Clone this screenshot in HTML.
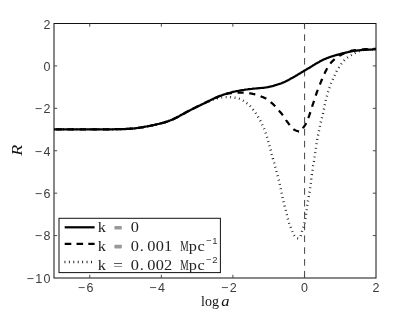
<!DOCTYPE html>
<html><head><meta charset="utf-8"><title>R vs log a</title>
<style>
html,body{margin:0;padding:0;background:#fff;}
body{width:415px;height:313px;overflow:hidden;font-family:"Liberation Sans",sans-serif;}
svg{display:block;}
.tk text{font-family:"Liberation Sans",sans-serif;font-size:12.5px;letter-spacing:1.45px;fill:#3c3c3c;}
.lg text{font-family:"Liberation Serif",serif;font-size:13.6px;fill:#222;}
.lg text.sup{font-family:"Liberation Sans",sans-serif;font-size:9.5px;letter-spacing:0.6px;fill:#333;}
.lg text.eq{font-family:"Liberation Mono",monospace;font-size:13.8px;}
</style></head><body>
<svg width="415" height="313" viewBox="0 0 415 313" style="filter:grayscale(1)">
<rect x="0" y="0" width="415" height="313" fill="#fff"/>
<g fill="none" stroke="#444" stroke-width="1" stroke-dasharray="6.6 5.23" stroke-dashoffset="1.0">
<path d="M304.6 23.5 V278"/>
</g>
<g fill="none" stroke="#000" stroke-linejoin="round">
<path d="M54.0 129.3 L54.7 129.3 L55.4 129.3 L56.1 129.3 L56.8 129.3 L57.6 129.3 L58.3 129.3 L59.0 129.3 L59.7 129.3 L60.4 129.3 L61.1 129.3 L61.8 129.3 L62.5 129.3 L63.2 129.3 L63.9 129.3 L64.7 129.3 L65.4 129.3 L66.1 129.3 L66.8 129.3 L67.5 129.3 L68.2 129.3 L68.9 129.3 L69.6 129.3 L70.3 129.3 L71.1 129.3 L71.8 129.3 L72.5 129.3 L73.2 129.3 L73.9 129.3 L74.6 129.3 L75.3 129.3 L76.0 129.3 L76.7 129.3 L77.4 129.3 L78.2 129.3 L78.9 129.3 L79.6 129.3 L80.3 129.3 L81.0 129.3 L81.7 129.3 L82.4 129.3 L83.1 129.3 L83.8 129.3 L84.6 129.3 L85.3 129.3 L86.0 129.3 L86.7 129.3 L87.4 129.3 L88.1 129.3 L88.8 129.3 L89.5 129.3 L90.2 129.3 L91.0 129.3 L91.7 129.3 L92.4 129.3 L93.1 129.3 L93.8 129.3 L94.5 129.3 L95.2 129.3 L95.9 129.3 L96.6 129.3 L97.3 129.3 L98.1 129.3 L98.8 129.3 L99.5 129.3 L100.2 129.3 L100.9 129.3 L101.6 129.3 L102.3 129.3 L103.0 129.3 L103.7 129.3 L104.5 129.3 L105.2 129.3 L105.9 129.3 L106.6 129.3 L107.3 129.3 L108.0 129.3 L108.7 129.3 L109.4 129.3 L110.1 129.3 L110.8 129.3 L111.6 129.3 L112.3 129.3 L113.0 129.3 L113.7 129.3 L114.4 129.3 L115.1 129.2 L115.8 129.2 L116.5 129.2 L117.2 129.2 L118.0 129.2 L118.7 129.2 L119.4 129.2 L120.1 129.2 L120.8 129.1 L121.5 129.1 L122.2 129.1 L122.9 129.1 L123.6 129.0 L124.3 129.0 L125.1 129.0 L125.8 129.0 L126.5 128.9 L127.2 128.9 L127.9 128.9 L128.6 128.8 L129.3 128.8 L130.0 128.7 L130.7 128.7 L131.4 128.6 L132.1 128.6 L132.9 128.5 L133.6 128.4 L134.3 128.4 L135.0 128.3 L135.7 128.2 L136.4 128.1 L137.1 128.0 L137.8 127.9 L138.5 127.8 L139.2 127.7 L139.9 127.6 L140.6 127.5 L141.3 127.4 L142.0 127.3 L142.7 127.2 L143.4 127.1 L144.1 126.9 L144.8 126.8 L145.5 126.7 L146.2 126.6 L146.9 126.4 L147.6 126.3 L148.3 126.2 L149.0 126.0 L149.7 125.9 L150.4 125.8 L151.1 125.6 L151.8 125.5 L152.5 125.3 L153.2 125.2 L153.9 125.0 L154.6 124.9 L155.3 124.7 L156.0 124.6 L156.7 124.4 L157.3 124.3 L158.0 124.1 L158.7 123.9 L159.4 123.8 L160.1 123.6 L160.8 123.4 L161.5 123.2 L162.2 123.0 L162.9 122.9 L163.5 122.7 L164.2 122.5 L164.9 122.3 L165.6 122.0 L166.3 121.8 L166.9 121.6 L167.6 121.4 L168.3 121.1 L169.0 120.9 L169.6 120.6 L170.3 120.4 L170.9 120.1 L171.6 119.8 L172.2 119.6 L172.9 119.3 L173.5 119.0 L174.2 118.7 L174.8 118.4 L175.5 118.1 L176.1 117.7 L176.7 117.4 L177.4 117.1 L178.0 116.8 L178.6 116.4 L179.3 116.1 L179.9 115.8 L180.5 115.4 L181.1 115.1 L181.7 114.7 L182.4 114.4 L183.0 114.1 L183.6 113.7 L184.2 113.4 L184.9 113.0 L185.5 112.7 L186.1 112.3 L186.7 112.0 L187.4 111.7 L188.0 111.3 L188.6 111.0 L189.2 110.7 L189.9 110.3 L190.5 110.0 L191.1 109.7 L191.8 109.3 L192.4 109.0 L193.0 108.7 L193.7 108.4 L194.3 108.1 L194.9 107.7 L195.6 107.4 L196.2 107.1 L196.8 106.8 L197.5 106.5 L198.1 106.2 L198.8 105.9 L199.4 105.6 L200.1 105.3 L200.7 105.0 L201.3 104.7 L202.0 104.3 L202.6 104.0 L203.3 103.7 L203.9 103.4 L204.5 103.1 L205.2 102.8 L205.8 102.5 L206.5 102.2 L207.1 101.9 L207.8 101.7 L208.4 101.4 L209.1 101.1 L209.7 100.8 L210.4 100.6 L211.1 100.3 L211.7 100.1 L212.4 99.9 L213.1 99.6 L213.8 99.4 L214.4 99.2 L215.1 99.0 L215.8 98.8 L216.5 98.6 L217.2 98.4 L217.8 98.2 L218.5 98.0 L219.2 97.9 L219.9 97.7 L220.6 97.6 L221.3 97.5 L222.0 97.4 L222.7 97.3 L223.4 97.2 L224.2 97.2 L224.9 97.1 L225.6 97.1 L226.3 97.1 L227.0 97.1 L227.7 97.1 L228.4 97.1 L229.1 97.2 L229.8 97.2 L230.5 97.2 L231.3 97.3 L232.0 97.4 L232.7 97.4 L233.4 97.5 L234.1 97.6 L234.8 97.7 L235.5 97.8 L236.2 98.0 L236.9 98.1 L237.6 98.3 L238.3 98.5 L238.9 98.7 L239.6 98.9 L240.3 99.2 L240.9 99.5 L241.6 99.8 L242.2 100.1 L242.8 100.5 L243.4 100.8 L244.0 101.2 L244.6 101.6 L245.2 102.0 L245.8 102.4 L246.3 102.9 L246.9 103.3 L247.5 103.7 L248.0 104.2 L248.6 104.6 L249.1 105.1 L249.6 105.6 L250.1 106.1 L250.6 106.7 L251.0 107.2 L251.5 107.7 L251.9 108.3 L252.4 108.8 L252.8 109.4 L253.3 109.9 L253.7 110.5 L254.2 111.0 L254.6 111.6 L255.0 112.2 L255.4 112.8 L255.8 113.3 L256.2 113.9 L256.7 114.5 L257.1 115.1 L257.5 115.7 L257.9 116.3 L258.2 116.9 L258.6 117.5 L258.9 118.1 L259.3 118.7 L259.6 119.4 L259.9 120.0 L260.3 120.6 L260.6 121.2 L260.9 121.9 L261.3 122.5 L261.6 123.1 L261.9 123.8 L262.1 124.4 L262.4 125.1 L262.7 125.7 L263.0 126.4 L263.3 127.0 L263.6 127.7 L263.9 128.3 L264.2 129.0 L264.4 129.6 L264.7 130.3 L265.0 131.0 L265.2 131.6 L265.4 132.3 L265.7 133.0 L265.9 133.6 L266.1 134.3 L266.3 135.0 L266.6 135.7 L266.8 136.4 L267.0 137.0 L267.2 137.7 L267.4 138.4 L267.6 139.1 L267.8 139.8 L268.0 140.5 L268.2 141.1 L268.4 141.8 L268.6 142.5 L268.7 143.2 L268.9 143.9 L269.1 144.6 L269.3 145.2 L269.5 145.9 L269.7 146.6 L269.9 147.3 L270.1 148.0 L270.2 148.7 L270.4 149.4 L270.6 150.0 L270.8 150.7 L271.0 151.4 L271.2 152.1 L271.4 152.8 L271.5 153.5 L271.7 154.2 L271.9 154.8 L272.1 155.5 L272.3 156.2 L272.5 156.9 L272.7 157.6 L272.8 158.3 L273.0 159.0 L273.2 159.6 L273.4 160.3 L273.6 161.0 L273.8 161.7 L274.0 162.4 L274.2 163.1 L274.3 163.8 L274.5 164.4 L274.7 165.1 L274.9 165.8 L275.1 166.5 L275.3 167.2 L275.5 167.9 L275.7 168.6 L275.8 169.2 L276.0 169.9 L276.2 170.6 L276.4 171.3 L276.6 172.0 L276.8 172.7 L277.0 173.4 L277.1 174.0 L277.3 174.7 L277.5 175.4 L277.7 176.1 L277.8 176.8 L278.0 177.5 L278.2 178.2 L278.4 178.9 L278.5 179.6 L278.7 180.2 L278.9 180.9 L279.0 181.6 L279.2 182.3 L279.3 183.0 L279.5 183.7 L279.7 184.4 L279.8 185.1 L280.0 185.8 L280.1 186.5 L280.3 187.2 L280.4 187.9 L280.6 188.6 L280.7 189.3 L280.9 190.0 L281.0 190.6 L281.2 191.3 L281.3 192.0 L281.5 192.7 L281.7 193.4 L281.8 194.1 L282.0 194.8 L282.1 195.5 L282.3 196.2 L282.5 196.9 L282.6 197.6 L282.8 198.3 L283.0 199.0 L283.1 199.6 L283.3 200.3 L283.5 201.0 L283.6 201.7 L283.8 202.4 L284.0 203.1 L284.1 203.8 L284.3 204.5 L284.5 205.2 L284.6 205.9 L284.8 206.6 L285.0 207.2 L285.1 207.9 L285.3 208.6 L285.5 209.3 L285.7 210.0 L285.8 210.7 L286.0 211.4 L286.2 212.1 L286.3 212.8 L286.5 213.4 L286.7 214.1 L286.9 214.8 L287.0 215.5 L287.2 216.2 L287.4 216.9 L287.6 217.6 L287.7 218.3 L287.9 218.9 L288.1 219.6 L288.3 220.3 L288.5 221.0 L288.7 221.7 L288.9 222.4 L289.1 223.0 L289.4 223.7 L289.6 224.4 L289.8 225.1 L290.1 225.7 L290.3 226.4 L290.6 227.1 L290.8 227.8 L291.1 228.4 L291.3 229.1 L291.6 229.7 L291.8 230.4 L292.1 231.0 L292.4 231.7 L292.6 232.3 L292.9 233.0 L293.2 233.6 L293.5 234.2 L293.9 234.8 L294.3 235.4 L294.8 236.0 L295.3 236.6 L295.9 237.2 L296.5 237.7 L297.2 238.1 L297.8 238.3 L298.4 238.4 L298.9 238.3 L299.3 238.0 L299.8 237.5 L300.1 236.9 L300.5 236.3 L300.8 235.5 L301.0 234.7 L301.3 233.8 L301.6 233.0 L301.8 232.2 L302.0 231.4 L302.3 230.7 L302.5 230.0 L302.7 229.3 L303.0 228.7 L303.2 228.1 L303.4 227.4 L303.6 226.8 L303.8 226.2 L304.0 225.5 L304.1 224.9 L304.3 224.2 L304.4 223.5 L304.6 222.9 L304.7 222.2 L304.9 221.5 L305.0 220.8 L305.1 220.1 L305.2 219.4 L305.4 218.7 L305.5 218.0 L305.6 217.3 L305.7 216.5 L305.8 215.8 L305.9 215.1 L306.0 214.4 L306.1 213.6 L306.2 212.9 L306.3 212.2 L306.4 211.5 L306.5 210.8 L306.6 210.0 L306.7 209.3 L306.8 208.6 L306.9 207.9 L307.0 207.2 L307.1 206.5 L307.2 205.8 L307.4 205.1 L307.5 204.4 L307.6 203.7 L307.7 203.0 L307.8 202.3 L307.9 201.6 L308.0 200.9 L308.2 200.2 L308.3 199.5 L308.4 198.8 L308.5 198.1 L308.6 197.4 L308.7 196.7 L308.8 196.0 L308.9 195.3 L309.0 194.6 L309.1 193.9 L309.2 193.2 L309.4 192.5 L309.5 191.8 L309.6 191.1 L309.7 190.4 L309.8 189.7 L309.9 189.0 L310.1 188.3 L310.2 187.6 L310.3 186.9 L310.4 186.2 L310.5 185.5 L310.6 184.8 L310.7 184.1 L310.8 183.4 L310.9 182.7 L311.0 182.0 L311.1 181.3 L311.2 180.6 L311.3 179.9 L311.3 179.1 L311.4 178.4 L311.5 177.7 L311.6 177.0 L311.6 176.3 L311.7 175.6 L311.8 174.9 L311.9 174.2 L312.0 173.5 L312.1 172.8 L312.1 172.1 L312.2 171.4 L312.3 170.7 L312.5 170.0 L312.6 169.3 L312.7 168.6 L312.8 167.9 L312.9 167.2 L313.0 166.5 L313.1 165.8 L313.3 165.1 L313.4 164.4 L313.5 163.7 L313.6 163.0 L313.7 162.3 L313.9 161.6 L314.0 160.9 L314.1 160.2 L314.2 159.5 L314.3 158.8 L314.4 158.1 L314.5 157.4 L314.6 156.7 L314.7 156.0 L314.8 155.2 L315.0 154.5 L315.1 153.8 L315.2 153.1 L315.3 152.4 L315.4 151.7 L315.5 151.0 L315.6 150.3 L315.7 149.6 L315.8 148.9 L315.9 148.2 L316.0 147.5 L316.1 146.8 L316.2 146.1 L316.3 145.4 L316.4 144.7 L316.5 144.0 L316.6 143.3 L316.8 142.6 L316.9 141.9 L317.0 141.2 L317.1 140.5 L317.2 139.8 L317.3 139.1 L317.5 138.4 L317.6 137.7 L317.7 137.0 L317.9 136.3 L318.0 135.6 L318.1 134.9 L318.3 134.2 L318.4 133.5 L318.5 132.8 L318.7 132.1 L318.8 131.4 L319.0 130.7 L319.1 130.0 L319.3 129.3 L319.4 128.6 L319.6 127.9 L319.7 127.3 L319.9 126.6 L320.0 125.9 L320.2 125.2 L320.4 124.5 L320.5 123.8 L320.7 123.1 L320.8 122.4 L321.0 121.7 L321.2 121.0 L321.3 120.3 L321.5 119.6 L321.7 119.0 L321.8 118.3 L322.0 117.6 L322.2 116.9 L322.3 116.2 L322.5 115.5 L322.6 114.8 L322.8 114.1 L323.0 113.4 L323.1 112.7 L323.3 112.0 L323.4 111.3 L323.6 110.6 L323.8 110.0 L323.9 109.3 L324.1 108.6 L324.2 107.9 L324.4 107.2 L324.5 106.5 L324.7 105.8 L324.8 105.1 L325.0 104.4 L325.2 103.7 L325.3 103.0 L325.5 102.3 L325.6 101.6 L325.8 100.9 L325.9 100.2 L326.1 99.6 L326.3 98.9 L326.4 98.2 L326.6 97.5 L326.8 96.8 L326.9 96.1 L327.1 95.4 L327.3 94.7 L327.5 94.0 L327.7 93.3 L327.8 92.7 L328.0 92.0 L328.2 91.3 L328.5 90.6 L328.7 89.9 L328.9 89.3 L329.1 88.6 L329.4 87.9 L329.6 87.3 L329.9 86.6 L330.1 85.9 L330.4 85.3 L330.7 84.6 L330.9 84.0 L331.2 83.3 L331.5 82.7 L331.8 82.0 L332.1 81.4 L332.3 80.7 L332.6 80.0 L332.9 79.4 L333.2 78.7 L333.5 78.1 L333.8 77.4 L334.0 76.8 L334.3 76.1 L334.6 75.5 L334.9 74.8 L335.2 74.2 L335.5 73.6 L335.8 72.9 L336.2 72.3 L336.5 71.7 L336.8 71.0 L337.2 70.4 L337.5 69.8 L337.9 69.2 L338.3 68.6 L338.6 68.0 L339.0 67.4 L339.4 66.8 L339.8 66.2 L340.2 65.6 L340.6 65.0 L341.0 64.4 L341.4 63.8 L341.8 63.3 L342.3 62.7 L342.7 62.2 L343.2 61.6 L343.7 61.1 L344.1 60.6 L344.6 60.1 L345.1 59.6 L345.7 59.1 L346.2 58.6 L346.7 58.1 L347.3 57.7 L347.9 57.2 L348.4 56.8 L349.0 56.4 L349.6 56.1 L350.2 55.7 L350.8 55.3 L351.5 55.0 L352.1 54.6 L352.7 54.3 L353.3 53.9 L353.9 53.6 L354.6 53.3 L355.2 52.9 L355.8 52.6 L356.5 52.3 L357.1 52.0 L357.8 51.7 L358.4 51.5 L359.1 51.2 L359.8 51.0 L360.5 50.8 L361.1 50.6 L361.8 50.4 L362.5 50.3 L363.2 50.1 L363.9 50.0 L364.6 50.0 L365.3 49.9 L366.0 49.8 L366.8 49.8 L367.5 49.8 L368.2 49.7 L368.9 49.7 L369.6 49.7 L370.3 49.7 L371.1 49.6 L371.8 49.6 L372.5 49.6 L373.2 49.5 L373.9 49.5 L374.6 49.4 L375.3 49.3 L376.0 49.2" stroke="#111" stroke-width="2.4" stroke-dasharray="0.8 3.65" stroke-dashoffset="4.40"/>
<path d="M54.0 129.3 L54.8 129.3 L55.6 129.3 L56.4 129.3 L57.2 129.3 L57.9 129.3 L58.7 129.3 L59.5 129.3 L60.3 129.3 L61.1 129.3 L61.9 129.3 L62.7 129.3 L63.5 129.3 L64.2 129.3 L65.0 129.3 L65.8 129.3 L66.6 129.3 L67.4 129.3 L68.2 129.3 L69.0 129.3 L69.8 129.3 L70.6 129.3 L71.3 129.3 L72.1 129.3 L72.9 129.3 L73.7 129.3 L74.5 129.3 L75.3 129.3 L76.1 129.3 L76.9 129.3 L77.7 129.3 L78.4 129.3 L79.2 129.3 L80.0 129.3 L80.8 129.3 L81.6 129.3 L82.4 129.3 L83.2 129.3 L84.0 129.3 L84.7 129.3 L85.5 129.3 L86.3 129.3 L87.1 129.3 L87.9 129.3 L88.7 129.3 L89.5 129.3 L90.3 129.3 L91.1 129.3 L91.8 129.3 L92.6 129.3 L93.4 129.3 L94.2 129.3 L95.0 129.3 L95.8 129.3 L96.6 129.3 L97.4 129.3 L98.2 129.3 L98.9 129.3 L99.7 129.3 L100.5 129.3 L101.3 129.3 L102.1 129.3 L102.9 129.3 L103.7 129.3 L104.5 129.3 L105.2 129.3 L106.0 129.3 L106.8 129.3 L107.6 129.3 L108.4 129.3 L109.2 129.3 L110.0 129.3 L110.8 129.3 L111.6 129.3 L112.3 129.3 L113.1 129.3 L113.9 129.3 L114.7 129.2 L115.5 129.2 L116.3 129.2 L117.1 129.2 L117.9 129.2 L118.6 129.2 L119.4 129.2 L120.2 129.1 L121.0 129.1 L121.8 129.1 L122.6 129.1 L123.4 129.1 L124.2 129.0 L125.0 129.0 L125.7 129.0 L126.5 128.9 L127.3 128.9 L128.1 128.9 L128.9 128.8 L129.7 128.8 L130.5 128.7 L131.3 128.6 L132.0 128.6 L132.8 128.5 L133.6 128.4 L134.4 128.4 L135.2 128.3 L136.0 128.2 L136.7 128.1 L137.5 128.0 L138.3 127.9 L139.1 127.8 L139.9 127.6 L140.6 127.5 L141.4 127.4 L142.2 127.3 L143.0 127.1 L143.8 127.0 L144.5 126.9 L145.3 126.7 L146.1 126.6 L146.9 126.4 L147.6 126.3 L148.4 126.1 L149.2 126.0 L150.0 125.8 L150.7 125.7 L151.5 125.5 L152.3 125.4 L153.0 125.2 L153.8 125.0 L154.6 124.9 L155.4 124.7 L156.1 124.5 L156.9 124.4 L157.7 124.2 L158.4 124.0 L159.2 123.8 L160.0 123.6 L160.7 123.4 L161.5 123.2 L162.3 123.0 L163.0 122.8 L163.8 122.6 L164.5 122.4 L165.3 122.1 L166.0 121.9 L166.8 121.7 L167.5 121.4 L168.3 121.1 L169.0 120.9 L169.8 120.6 L170.5 120.3 L171.2 120.0 L171.9 119.7 L172.7 119.4 L173.4 119.1 L174.1 118.7 L174.8 118.4 L175.5 118.0 L176.2 117.7 L176.9 117.3 L177.6 117.0 L178.3 116.6 L179.0 116.2 L179.7 115.9 L180.4 115.5 L181.1 115.1 L181.8 114.7 L182.5 114.3 L183.2 114.0 L183.9 113.6 L184.6 113.2 L185.2 112.8 L185.9 112.4 L186.6 112.1 L187.3 111.7 L188.0 111.3 L188.7 110.9 L189.4 110.6 L190.1 110.2 L190.8 109.8 L191.5 109.5 L192.2 109.1 L192.9 108.8 L193.6 108.4 L194.3 108.0 L195.0 107.7 L195.7 107.3 L196.4 107.0 L197.1 106.7 L197.9 106.3 L198.6 106.0 L199.3 105.6 L200.0 105.3 L200.7 105.0 L201.4 104.6 L202.1 104.3 L202.8 103.9 L203.6 103.6 L204.3 103.3 L205.0 102.9 L205.7 102.6 L206.4 102.2 L207.1 101.9 L207.8 101.6 L208.5 101.2 L209.2 100.9 L209.9 100.5 L210.7 100.2 L211.4 99.8 L212.1 99.5 L212.8 99.1 L213.5 98.8 L214.2 98.5 L214.9 98.1 L215.6 97.8 L216.3 97.5 L217.1 97.1 L217.8 96.8 L218.5 96.5 L219.2 96.2 L220.0 95.9 L220.7 95.6 L221.5 95.4 L222.2 95.1 L223.0 94.9 L223.7 94.6 L224.5 94.4 L225.2 94.2 L226.0 94.0 L226.8 93.8 L227.5 93.7 L228.3 93.5 L229.1 93.4 L229.9 93.3 L230.6 93.2 L231.4 93.1 L232.2 93.0 L233.0 92.9 L233.8 92.8 L234.6 92.8 L235.4 92.7 L236.1 92.7 L236.9 92.7 L237.7 92.6 L238.5 92.6 L239.3 92.6 L240.1 92.6 L240.9 92.6 L241.7 92.6 L242.4 92.6 L243.2 92.7 L244.0 92.7 L244.8 92.8 L245.6 92.8 L246.4 92.9 L247.2 93.0 L248.0 93.1 L248.7 93.2 L249.5 93.3 L250.3 93.4 L251.1 93.5 L251.9 93.7 L252.6 93.9 L253.4 94.0 L254.2 94.2 L254.9 94.4 L255.7 94.6 L256.4 94.9 L257.2 95.1 L257.9 95.4 L258.7 95.6 L259.4 95.9 L260.2 96.1 L260.9 96.4 L261.7 96.7 L262.4 97.0 L263.1 97.2 L263.9 97.6 L264.6 97.9 L265.3 98.2 L266.0 98.6 L266.7 99.0 L267.3 99.4 L268.0 99.9 L268.6 100.3 L269.2 100.8 L269.8 101.3 L270.4 101.8 L271.0 102.4 L271.6 102.9 L272.2 103.4 L272.8 103.9 L273.4 104.5 L273.9 105.0 L274.5 105.6 L275.1 106.1 L275.6 106.7 L276.1 107.3 L276.6 107.9 L277.2 108.5 L277.7 109.1 L278.2 109.7 L278.7 110.3 L279.2 110.9 L279.7 111.5 L280.3 112.1 L280.8 112.7 L281.3 113.3 L281.8 113.9 L282.3 114.5 L282.7 115.1 L283.2 115.8 L283.6 116.4 L284.1 117.1 L284.5 117.8 L284.9 118.4 L285.3 119.1 L285.8 119.7 L286.2 120.4 L286.7 121.0 L287.1 121.7 L287.6 122.3 L288.1 122.9 L288.6 123.6 L289.1 124.2 L289.5 124.8 L290.0 125.4 L290.5 126.0 L291.0 126.6 L291.5 127.2 L292.1 127.8 L292.6 128.4 L293.2 128.9 L293.8 129.4 L294.5 129.8 L295.2 130.2 L295.9 130.5 L296.7 130.8 L297.4 131.0 L298.2 131.3 L298.9 131.6 L299.7 131.7 L300.4 131.6 L301.1 131.2 L301.7 130.7 L302.1 130.0 L302.5 129.3 L302.9 128.6 L303.2 127.9 L303.6 127.2 L304.0 126.6 L304.5 125.9 L304.9 125.2 L305.4 124.6 L305.8 124.0 L306.2 123.3 L306.6 122.6 L306.9 121.9 L307.2 121.1 L307.4 120.4 L307.7 119.6 L308.0 118.9 L308.2 118.1 L308.5 117.4 L308.8 116.7 L309.1 115.9 L309.3 115.2 L309.6 114.4 L309.8 113.7 L310.1 113.0 L310.3 112.2 L310.6 111.4 L310.8 110.7 L311.0 109.9 L311.3 109.2 L311.5 108.4 L311.7 107.7 L312.0 106.9 L312.2 106.2 L312.5 105.4 L312.7 104.7 L313.0 103.9 L313.2 103.2 L313.5 102.5 L313.8 101.7 L314.0 101.0 L314.3 100.2 L314.5 99.5 L314.8 98.7 L315.0 98.0 L315.3 97.2 L315.5 96.5 L315.7 95.7 L316.0 95.0 L316.2 94.2 L316.4 93.5 L316.7 92.7 L317.0 92.0 L317.2 91.2 L317.5 90.5 L317.8 89.7 L318.0 89.0 L318.3 88.3 L318.6 87.5 L318.9 86.8 L319.2 86.1 L319.5 85.3 L319.8 84.6 L320.1 83.9 L320.4 83.2 L320.7 82.4 L321.0 81.7 L321.3 81.0 L321.6 80.3 L321.9 79.5 L322.2 78.8 L322.5 78.1 L322.9 77.3 L323.2 76.6 L323.5 75.9 L323.8 75.2 L324.1 74.5 L324.4 73.7 L324.8 73.0 L325.1 72.3 L325.4 71.6 L325.8 70.9 L326.2 70.2 L326.5 69.5 L326.9 68.8 L327.3 68.1 L327.7 67.4 L328.1 66.8 L328.6 66.1 L329.0 65.4 L329.4 64.8 L329.9 64.2 L330.4 63.5 L330.9 62.9 L331.4 62.3 L331.9 61.7 L332.5 61.2 L333.0 60.6 L333.6 60.1 L334.2 59.5 L334.8 59.0 L335.4 58.5 L336.0 58.0 L336.7 57.6 L337.3 57.1 L338.0 56.7 L338.6 56.3 L339.3 55.8 L340.0 55.4 L340.7 55.1 L341.4 54.7 L342.1 54.3 L342.8 53.9 L343.5 53.6 L344.2 53.2 L344.9 52.9 L345.6 52.6 L346.4 52.3 L347.1 52.0 L347.9 51.7 L348.6 51.5 L349.3 51.3 L350.1 51.1 L350.9 50.9 L351.6 50.7 L352.4 50.6 L353.2 50.4 L354.0 50.3 L354.7 50.2 L355.5 50.1 L356.3 50.0 L357.1 49.9 L357.9 49.8 L358.7 49.8 L359.5 49.7 L360.3 49.6 L361.0 49.5 L361.8 49.5 L362.6 49.4 L363.4 49.4 L364.2 49.3 L365.0 49.2 L365.8 49.2 L366.6 49.1 L367.3 49.1 L368.1 49.0 L368.9 49.0 L369.7 49.0 L370.5 48.9 L371.3 48.9 L372.1 48.9 L372.8 48.8 L373.6 48.8 L374.4 48.8 L375.2 48.8 L376.0 48.8" stroke-width="2.25" stroke-dasharray="6.2 5.6" stroke-dashoffset="9.82"/>
<path d="M54.0 129.3 L55.1 129.3 L56.3 129.3 L57.4 129.3 L58.5 129.3 L59.6 129.3 L60.8 129.3 L61.9 129.3 L63.0 129.3 L64.2 129.3 L65.3 129.3 L66.4 129.3 L67.6 129.3 L68.7 129.3 L69.8 129.3 L70.9 129.3 L72.1 129.3 L73.2 129.3 L74.3 129.3 L75.5 129.3 L76.6 129.3 L77.7 129.3 L78.8 129.3 L80.0 129.3 L81.1 129.3 L82.2 129.3 L83.4 129.3 L84.5 129.3 L85.6 129.3 L86.8 129.3 L87.9 129.3 L89.0 129.3 L90.1 129.3 L91.3 129.3 L92.4 129.3 L93.5 129.3 L94.7 129.3 L95.8 129.3 L96.9 129.3 L98.1 129.3 L99.2 129.3 L100.3 129.3 L101.4 129.3 L102.6 129.3 L103.7 129.3 L104.8 129.3 L106.0 129.3 L107.1 129.3 L108.2 129.3 L109.3 129.3 L110.5 129.3 L111.6 129.3 L112.7 129.3 L113.9 129.3 L115.0 129.2 L116.1 129.2 L117.3 129.2 L118.4 129.2 L119.5 129.2 L120.6 129.1 L121.8 129.1 L122.9 129.1 L124.0 129.0 L125.2 129.0 L126.3 128.9 L127.4 128.9 L128.5 128.8 L129.7 128.8 L130.8 128.7 L131.9 128.6 L133.1 128.5 L134.2 128.4 L135.3 128.3 L136.4 128.1 L137.5 128.0 L138.7 127.8 L139.8 127.7 L140.9 127.5 L142.0 127.3 L143.1 127.1 L144.2 126.9 L145.3 126.7 L146.5 126.5 L147.6 126.3 L148.7 126.1 L149.8 125.9 L150.9 125.7 L152.0 125.4 L153.1 125.2 L154.2 125.0 L155.3 124.7 L156.4 124.5 L157.5 124.2 L158.6 124.0 L159.7 123.7 L160.8 123.4 L161.9 123.1 L163.0 122.8 L164.1 122.5 L165.2 122.2 L166.2 121.8 L167.3 121.5 L168.4 121.1 L169.4 120.7 L170.5 120.3 L171.5 119.9 L172.6 119.4 L173.6 119.0 L174.6 118.5 L175.6 118.0 L176.6 117.5 L177.7 117.0 L178.7 116.4 L179.6 115.9 L180.6 115.3 L181.6 114.8 L182.6 114.3 L183.6 113.7 L184.6 113.2 L185.6 112.6 L186.6 112.1 L187.6 111.6 L188.6 111.0 L189.6 110.5 L190.6 110.0 L191.6 109.4 L192.6 108.9 L193.6 108.4 L194.6 107.9 L195.6 107.4 L196.6 106.9 L197.6 106.4 L198.7 105.9 L199.7 105.5 L200.7 105.0 L201.7 104.5 L202.7 104.0 L203.8 103.5 L204.8 103.0 L205.8 102.5 L206.8 102.0 L207.8 101.6 L208.8 101.1 L209.9 100.6 L210.9 100.1 L211.9 99.6 L212.9 99.1 L213.9 98.6 L215.0 98.1 L216.0 97.6 L217.0 97.2 L218.0 96.7 L219.1 96.3 L220.1 95.9 L221.2 95.5 L222.2 95.1 L223.3 94.7 L224.4 94.3 L225.5 94.0 L226.5 93.7 L227.6 93.4 L228.7 93.0 L229.8 92.8 L230.9 92.5 L232.0 92.2 L233.1 91.9 L234.2 91.7 L235.3 91.5 L236.4 91.2 L237.5 91.0 L238.6 90.8 L239.7 90.6 L240.9 90.4 L242.0 90.2 L243.1 90.0 L244.2 89.9 L245.3 89.7 L246.4 89.5 L247.6 89.4 L248.7 89.2 L249.8 89.1 L250.9 89.0 L252.0 88.9 L253.2 88.7 L254.3 88.6 L255.4 88.5 L256.5 88.4 L257.7 88.3 L258.8 88.2 L259.9 88.1 L261.0 88.0 L262.2 87.9 L263.3 87.8 L264.4 87.7 L265.5 87.5 L266.7 87.3 L267.8 87.2 L268.9 86.9 L270.0 86.7 L271.1 86.4 L272.2 86.2 L273.3 85.9 L274.3 85.5 L275.4 85.2 L276.5 84.9 L277.6 84.5 L278.7 84.2 L279.7 83.8 L280.8 83.5 L281.9 83.1 L282.9 82.6 L283.9 82.2 L285.0 81.7 L286.0 81.2 L287.0 80.7 L288.0 80.2 L289.0 79.7 L290.0 79.1 L291.0 78.6 L292.0 78.1 L293.0 77.5 L293.9 76.9 L294.9 76.4 L295.9 75.8 L296.9 75.2 L297.8 74.6 L298.8 74.0 L299.8 73.4 L300.7 72.9 L301.7 72.3 L302.7 71.7 L303.6 71.1 L304.6 70.6 L305.6 70.0 L306.6 69.4 L307.5 68.8 L308.5 68.3 L309.5 67.7 L310.4 67.1 L311.4 66.5 L312.4 65.9 L313.3 65.3 L314.3 64.7 L315.2 64.1 L316.2 63.6 L317.2 63.0 L318.2 62.4 L319.2 61.9 L320.2 61.3 L321.2 60.8 L322.2 60.3 L323.2 59.8 L324.2 59.3 L325.2 58.9 L326.3 58.4 L327.3 58.0 L328.4 57.6 L329.4 57.2 L330.5 56.8 L331.6 56.5 L332.7 56.2 L333.7 55.8 L334.8 55.5 L335.9 55.2 L337.0 54.9 L338.1 54.6 L339.2 54.3 L340.3 54.0 L341.4 53.7 L342.5 53.4 L343.6 53.1 L344.6 52.9 L345.7 52.6 L346.8 52.3 L347.9 52.1 L349.0 51.8 L350.1 51.6 L351.3 51.4 L352.4 51.2 L353.5 51.0 L354.6 50.9 L355.7 50.7 L356.8 50.6 L358.0 50.4 L359.1 50.3 L360.2 50.2 L361.3 50.1 L362.5 50.0 L363.6 49.9 L364.7 49.9 L365.9 49.8 L367.0 49.7 L368.1 49.6 L369.2 49.6 L370.4 49.5 L371.5 49.5 L372.6 49.4 L373.7 49.3 L374.9 49.3 L376.0 49.2" stroke-width="2.25"/>
</g>
<g fill="none" stroke="#111" stroke-width="1">
<rect x="54" y="23.5" width="322" height="254.5"/>
<g stroke="#4a4a4a">
<path d="M89.78 278.00 V274.80 M89.78 23.50 V26.70"/>
<path d="M161.33 278.00 V274.80 M161.33 23.50 V26.70"/>
<path d="M232.89 278.00 V274.80 M232.89 23.50 V26.70"/>
<path d="M304.44 278.00 V274.80 M304.44 23.50 V26.70"/>
<path d="M54.00 235.58 H57.20 M376.00 235.58 H372.80"/>
<path d="M54.00 193.17 H57.20 M376.00 193.17 H372.80"/>
<path d="M54.00 150.75 H57.20 M376.00 150.75 H372.80"/>
<path d="M54.00 108.33 H57.20 M376.00 108.33 H372.80"/>
<path d="M54.00 65.92 H57.20 M376.00 65.92 H372.80"/>
</g>
</g>
<g class="tk">
<text x="95.0" y="292.2" text-anchor="end">−6</text>
<text x="166.5" y="292.2" text-anchor="end">−4</text>
<text x="238.1" y="292.2" text-anchor="end">−2</text>
<text x="305.1" y="292.2" text-anchor="middle">0</text>
<text x="376.7" y="292.2" text-anchor="middle">2</text>
<text x="52.0" y="282.8" text-anchor="end">−10</text>
<text x="52.0" y="240.1" text-anchor="end">−8</text>
<text x="52.0" y="198.1" text-anchor="end">−6</text>
<text x="52.0" y="155.8" text-anchor="end">−4</text>
<text x="52.0" y="113.4" text-anchor="end">−2</text>
<text x="52.0" y="70.9" text-anchor="end">0</text>
<text x="52.0" y="28.5" text-anchor="end">2</text>
</g>
<g class="lg">
<rect x="59" y="218.3" width="161.4" height="54.3" fill="#fff" stroke="#111" stroke-width="1"/>
<path d="M64.7 227.3 H94.6" stroke="#000" stroke-width="2.25" fill="none"/>
<path d="M64.7 243.9 H94.6" stroke="#000" stroke-width="2.25" fill="none" stroke-dasharray="6.6 5.2"/>
<path d="M64.5 262.0 H94.6" stroke="#111" stroke-width="2.4" fill="none" stroke-dasharray="0.9 3.52"/>
<text transform="translate(101.74 231.7) scale(1.2 1)" text-anchor="middle">k</text>
<rect x="114.40" y="225.90" width="7.4" height="3.6" rx="0.8" fill="#999"/>
<text transform="translate(134.86 231.7) scale(1.2 1)" text-anchor="middle">0</text>
<text transform="translate(101.74 250.6) scale(1.2 1)" text-anchor="middle">k</text>
<rect x="114.40" y="244.80" width="7.4" height="3.6" rx="0.8" fill="#999"/>
<text transform="translate(134.86 250.6) scale(1.2 1)" text-anchor="middle">0</text>
<text transform="translate(141.84 250.6) scale(1.2 1)" text-anchor="middle">.</text>
<text transform="translate(151.42 250.6) scale(1.2 1)" text-anchor="middle">0</text>
<text transform="translate(159.70 250.6) scale(1.2 1)" text-anchor="middle">0</text>
<text transform="translate(167.98 250.6) scale(1.2 1)" text-anchor="middle">1</text>
<text transform="translate(184.54 250.6) scale(0.70 1)" text-anchor="middle">M</text>
<text transform="translate(192.82 250.6) scale(1.2 1)" text-anchor="middle">p</text>
<text transform="translate(201.10 250.6) scale(1.2 1)" text-anchor="middle">c</text>
<text x="206.04" y="244.1" class="sup">−1</text>
<text transform="translate(101.74 269.5) scale(1.2 1)" text-anchor="middle">k</text>
<text transform="translate(118.00 270.1) scale(1.25 1)" text-anchor="middle">=</text>
<text transform="translate(134.86 269.5) scale(1.2 1)" text-anchor="middle">0</text>
<text transform="translate(141.84 269.5) scale(1.2 1)" text-anchor="middle">.</text>
<text transform="translate(151.42 269.5) scale(1.2 1)" text-anchor="middle">0</text>
<text transform="translate(159.70 269.5) scale(1.2 1)" text-anchor="middle">0</text>
<text transform="translate(167.98 269.5) scale(1.2 1)" text-anchor="middle">2</text>
<text transform="translate(184.54 269.5) scale(0.70 1)" text-anchor="middle">M</text>
<text transform="translate(192.82 269.5) scale(1.2 1)" text-anchor="middle">p</text>
<text transform="translate(201.10 269.5) scale(1.2 1)" text-anchor="middle">c</text>
<text x="206.04" y="263.0" class="sup">−2</text>
</g>
<text transform="translate(22.0 150.3) rotate(-90) scale(1.2 1)" text-anchor="middle" font-family="Liberation Serif, serif" font-style="italic" font-size="15px" fill="#111">R</text>
<text x="201" y="306.3" font-family="Liberation Serif, serif" font-size="14px" fill="#111">log</text>
<text transform="translate(221.2 306.3) scale(1.18 1)" font-family="Liberation Serif, serif" font-style="italic" font-size="14px" fill="#111">a</text>
</svg>
</body></html>
